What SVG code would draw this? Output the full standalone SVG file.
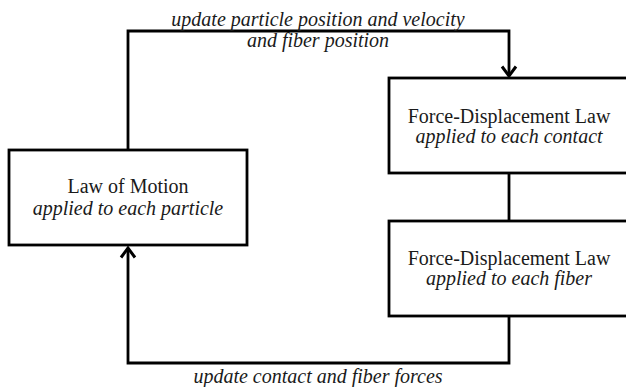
<svg xmlns="http://www.w3.org/2000/svg" width="626" height="387" viewBox="0 0 626 387">
<style>
.box{fill:#fff;stroke:#000;stroke-width:2.8}
.conn{fill:none;stroke:#000;stroke-width:2.8}
text{font-family:"Liberation Serif","Times New Roman",serif;font-size:20px;fill:#1a1a1a;text-anchor:middle}
.it{font-style:italic}
</style>
<defs>
<marker id="arr" markerUnits="userSpaceOnUse" markerWidth="24" markerHeight="24" viewBox="-12 -12 24 24" refX="0" refY="0" orient="auto" overflow="visible">
<path d="M-9.5,-7 L0,0 L-9.5,7" fill="none" stroke="#000" stroke-width="3"/>
</marker>
</defs>
<rect width="626" height="387" fill="#fff"/>
<g id="connectors">
<path class="conn" d="M128,150 V31 H509 V76" marker-end="url(#arr)"/>
<path class="conn" d="M509,316 V363 H128 V248" marker-end="url(#arr)"/>
<path class="conn" d="M509,173 V221"/>
<text class="it" x="318" y="26">update particle position and velocity</text>
<text class="it" x="318" y="47">and fiber position</text>
<text class="it" x="318" y="383">update contact and fiber forces</text>
</g>
<g id="motion">
<rect class="box" x="9" y="150" width="238" height="95"/>
<text x="128" y="193">Law of Motion</text>
<text class="it" x="128" y="215">applied to each particle</text>
</g>
<g id="contact">
<rect class="box" x="389" y="78" width="240" height="95"/>
<text x="509" y="123">Force-Displacement Law</text>
<text class="it" x="509" y="143">applied to each contact</text>
</g>
<g id="fiber">
<rect class="box" x="389" y="221" width="240" height="95"/>
<text x="509" y="265">Force-Displacement Law</text>
<text class="it" x="509" y="285">applied to each fiber</text>
</g>
</svg>
